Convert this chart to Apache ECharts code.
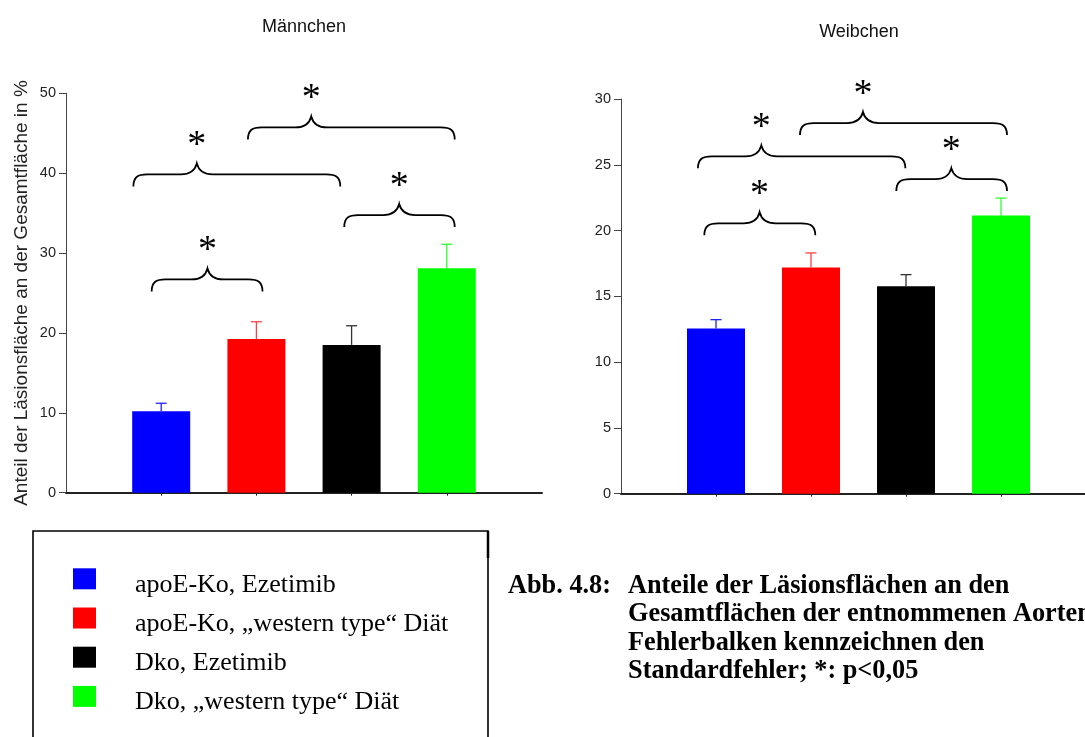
<!DOCTYPE html>
<html>
<head>
<meta charset="utf-8">
<script src="https://cdn.jsdelivr.net/npm/echarts@6/dist/echarts.min.js"></script>
<style>html,body{margin:0;padding:0;background:#fff}#c{width:1085px;height:737px}</style>
</head>
<body>
<div id="c"></div>
<script>
// ---- data ----
const groups = ['apoE-Ko, Ezetimib', 'apoE-Ko, \u201Ewestern type\u201C Di\u00e4t', 'Dko, Ezetimib', 'Dko, \u201Ewestern type\u201C Di\u00e4t'];
const groupX = [1, 2, 3, 4];
const barColors = ['#0000ff', '#ff0000', '#000000', '#00ff00'];
const errColors = ['#2020ff', '#ff4040', '#333333', '#30ff30'];
const maleMean = [10.2, 19.25, 18.5, 28.1];
const maleErr = [1.0, 2.15, 2.4, 3.0];
const femaleMean = [12.55, 17.2, 15.77, 21.15];
const femaleErr = [0.68, 1.1, 0.88, 1.32];
const maleTicks = {min: 0, max: 50, interval: 10};
const femaleTicks = {min: 0, max: 30, interval: 5};
const maleXMax = 5;
const femaleXMax = 4.884;
// braces: [start x, peak x, end x, y of horizontal line] in data units
const maleBraces = [[0.90, 1.486, 2.064, 26.7], [0.708, 1.374, 2.881, 39.85], [1.911, 2.576, 4.083, 45.73], [2.923, 3.50, 4.083, 34.76]];
const femaleBraces = [[0.877, 1.459, 2.045, 20.55], [0.81, 1.477, 2.993, 25.64], [1.884, 2.547, 4.063, 28.17], [2.898, 3.477, 4.063, 23.91]];
const titles = ['M\u00e4nnchen', 'Weibchen'];
const yName = 'Anteil der L\u00e4sionsfl\u00e4che an der Gesamtfl\u00e4che in %';
const captionHead = 'Abb. 4.8:';
const captionLines = ['Anteile der L\u00e4sionsfl\u00e4chen an den', 'Gesamtfl\u00e4chen der entnommenen Aorten;', 'Fehlerbalken kennzeichnen den', 'Standardfehler; *: p<0,05'];

const SANS = '"Liberation Sans", Arial, sans-serif';
const SERIF = '"Liberation Serif", "Times New Roman", serif';

function errRender(params, api) {
  const x = api.value(0), lo = api.value(1), hi = api.value(2), ci = api.value(3);
  const p0 = api.coord([x, lo]), p1 = api.coord([x, hi]);
  const c = errColors[ci];
  return {type: 'group', children: [
    {type: 'line', shape: {x1: p0[0], y1: p0[1], x2: p1[0], y2: p1[1]}, style: {stroke: c, lineWidth: 1.3}},
    {type: 'line', shape: {x1: p1[0] - 5.5, y1: p1[1], x2: p1[0] + 5.5, y2: p1[1]}, style: {stroke: c, lineWidth: 1.3}}
  ]};
}
function braceRender(params, api) {
  const x1 = api.value(0), xp = api.value(1), x2 = api.value(2), y = api.value(3);
  const a = api.coord([x1, y]), p = api.coord([xp, y]), b = api.coord([x2, y]);
  const yl = a[1], d = 12, h = 11;
  const path = 'M' + a[0] + ',' + (yl + d) +
    ' C' + a[0] + ',' + (yl + 3) + ' ' + (a[0] + 4) + ',' + yl + ' ' + (a[0] + 14) + ',' + yl +
    ' L' + (p[0] - 16) + ',' + yl +
    ' C' + (p[0] - 8) + ',' + yl + ' ' + (p[0] - 2) + ',' + (yl - 3) + ' ' + p[0] + ',' + (yl - h) +
    ' C' + (p[0] + 2) + ',' + (yl - 3) + ' ' + (p[0] + 8) + ',' + yl + ' ' + (p[0] + 16) + ',' + yl +
    ' L' + (b[0] - 14) + ',' + yl +
    ' C' + (b[0] - 4) + ',' + yl + ' ' + b[0] + ',' + (yl + 3) + ' ' + b[0] + ',' + (yl + d);
  return {type: 'group', children: [
    {type: 'path', shape: {pathData: path}, style: {stroke: '#000', fill: 'none', lineWidth: 1.8}},
    {type: 'text', x: p[0], y: yl - 28.5, style: {text: '*', font: '38px ' + SERIF, textAlign: 'center', textVerticalAlign: 'middle', fill: '#000'}}
  ]};
}

function xAxisFor(i, max) {
  return {type: 'value', gridIndex: i, min: 0, max: max, axisLabel: {show: false}, splitLine: {show: false},
    axisLine: {show: true, lineStyle: {color: '#222', width: 2}},
    axisTick: {show: true, customValues: groupX, length: 3, lineStyle: {color: '#222'}}};
}
function yAxisFor(i, t, name) {
  return {type: 'value', gridIndex: i, min: t.min, max: t.max, interval: t.interval,
    name: name, nameLocation: 'middle', nameGap: 35,
    nameTextStyle: {fontFamily: SANS, fontSize: 19, color: '#222'},
    splitLine: {show: false},
    axisLine: {show: true, lineStyle: {color: '#444', width: 1}},
    axisTick: {show: true, length: 7, lineStyle: {color: '#444'}},
    axisLabel: {fontFamily: SANS, fontSize: 14.5, color: '#222', margin: 10}};
}

const series = [];
[[maleMean, maleErr, maleBraces], [femaleMean, femaleErr, femaleBraces]].forEach(function (set, gi) {
  const mean = set[0], err = set[1], braces = set[2];
  groups.forEach(function (g, k) {
    series.push({type: 'bar', name: g, xAxisIndex: gi, yAxisIndex: gi, stack: 's' + gi, barWidth: 58,
      itemStyle: {color: barColors[k]}, data: [[groupX[k], mean[k]]], silent: true});
  });
  series.push({type: 'custom', xAxisIndex: gi, yAxisIndex: gi, renderItem: errRender, z: 5, silent: true,
    data: groupX.map(function (x, k) { return [x, mean[k], mean[k] + err[k], k]; })});
  series.push({type: 'custom', xAxisIndex: gi, yAxisIndex: gi, renderItem: braceRender, z: 6, silent: true,
    data: braces});
});

const chart = echarts.init(document.getElementById('c'), null, {renderer: 'canvas'});
chart.setOption({
  animation: false,
  backgroundColor: '#fff',
  title: [
    {text: titles[0], left: 304, top: 18, textAlign: 'center', padding: 0, textStyle: {fontFamily: SANS, fontSize: 18, fontWeight: 'normal', color: '#111'}},
    {text: titles[1], left: 859, top: 23, textAlign: 'center', padding: 0, textStyle: {fontFamily: SANS, fontSize: 18, fontWeight: 'normal', color: '#111'}}
  ],
  grid: [
    {left: 66, top: 93.3, width: 476, height: 399.4},
    {left: 621, top: 99, width: 464, height: 394.7}
  ],
  xAxis: [xAxisFor(0, maleXMax), xAxisFor(1, femaleXMax)],
  yAxis: [yAxisFor(0, maleTicks, yName), yAxisFor(1, femaleTicks, '')],
  legend: {
    data: groups, orient: 'vertical', left: 73, top: 559.8, padding: 0, itemGap: 1.2,
    itemWidth: 23, itemHeight: 21, icon: 'rect', selectedMode: false,
    formatter: '{t|{name}}',
    textStyle: {
      fontFamily: SERIF, fontSize: 26, color: '#000',
      rich: {t: {fontFamily: SERIF, fontSize: 26, color: '#000', lineHeight: 26, padding: [12, 0, 0, 34]}}
    }
  },
  graphic: [
    {type: 'rect', shape: {x: 33, y: 531, width: 455, height: 240}, style: {fill: 'none', stroke: '#000', lineWidth: 1.6}, silent: true},
    {type: 'line', shape: {x1: 488, y1: 531, x2: 488, y2: 558}, style: {stroke: '#000', lineWidth: 2.5}, silent: true},
    {type: 'text', x: 508, y: 571.5, style: {text: captionHead, font: 'bold 26.3px ' + SERIF, fill: '#000', textVerticalAlign: 'top', lineHeight: 28.6}, silent: true},
    {type: 'text', x: 628, y: 571.5, style: {text: captionLines.join('\n'), font: 'bold 26.3px ' + SERIF, fill: '#000', textVerticalAlign: 'top', lineHeight: 28.6}, silent: true}
  ],
  series: series
});
</script>
</body>
</html>
